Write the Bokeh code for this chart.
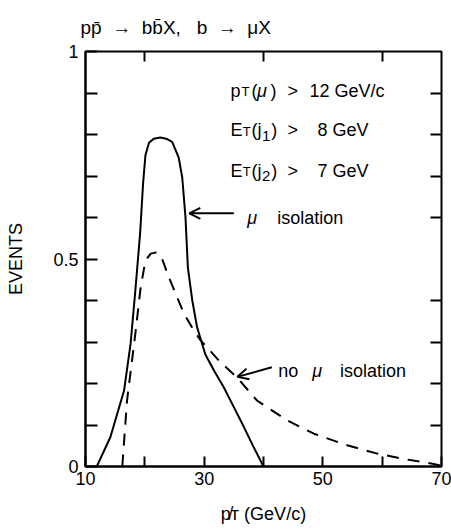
from bokeh.plotting import figure
from bokeh.models import Range1d, LinearAxis, FixedTicker, Label, Arrow, OpenHead
from bokeh.embed import file_html
from bokeh.resources import INLINE

# ---- data ----
iso_x = [11.9, 14.2, 16.5, 17.6, 18.4, 19.2, 19.7, 20.1, 20.7, 21.5, 22.6, 23.6, 24.6,
         25.7, 26.3, 26.85, 27.25, 28.0, 28.8, 30.2, 31.7, 33.3, 35.0, 36.7, 38.3, 40.0]
iso_y = [0.0, 0.071, 0.183, 0.296, 0.424, 0.561, 0.681, 0.750, 0.780, 0.790, 0.793, 0.790, 0.782,
         0.745, 0.697, 0.601, 0.48, 0.40, 0.336, 0.27, 0.23, 0.191, 0.143, 0.095, 0.048, 0.0]

noiso_x = [16.2, 17.0, 18.4, 19.3, 20.1, 21.0, 22.0, 23.0, 24.05, 26.6, 28.25, 29.4, 32.5,
           35.5, 38.9, 44.0, 48.5, 54.1, 59.2, 63.7, 68.7, 70.0]
noiso_y = [0.0, 0.159, 0.32, 0.432, 0.496, 0.513, 0.516, 0.497, 0.456, 0.368, 0.328, 0.304, 0.255,
           0.215, 0.159, 0.111, 0.079, 0.051, 0.031, 0.018, 0.006, 0.002]

x_major = [10, 30, 50, 70]
x_minor = [20, 40, 60]
y_major = [0, 0.5, 1]
y_minor = [0.1, 0.2, 0.3, 0.4, 0.6, 0.7, 0.8, 0.9]

FONT = "Liberation Sans"
FS = "18px"
SUB = "13px"
SUBD = "15px"
NB = "\u00a0"

p = figure(frame_width=356, frame_height=415, x_range=Range1d(10, 70), y_range=Range1d(0, 1),
           output_backend="svg", toolbar_location=None,
           min_border_left=85, min_border_right=10, min_border_top=51, min_border_bottom=65)
p.grid.visible = False
p.outline_line_color = "black"
p.outline_line_width = 2
p.background_fill_color = "white"
p.border_fill_color = "white"

p.title.text = "pp̄" + NB + " →" + NB + " bb̄X," + NB + NB + " b" + NB + " →" + NB + " μX"
p.title.text_font = FONT
p.title.text_font_size = "19px"
p.title.text_font_style = "normal"
p.title.text_color = "black"
p.title.align = "left"
p.title.offset = -5
p.title.standoff = 27

def style_axis(ax, tick_len):
    ax.major_tick_in = tick_len
    ax.major_tick_out = 0
    ax.minor_tick_in = tick_len
    ax.minor_tick_out = 0
    ax.major_tick_line_width = 2
    ax.minor_tick_line_width = 2
    ax.major_tick_line_color = "black"
    ax.minor_tick_line_color = "black"
    ax.axis_line_width = 2
    ax.axis_line_color = "black"
    ax.major_label_text_font = FONT
    ax.major_label_text_font_size = FS
    ax.major_label_text_color = "black"

xa = p.xaxis[0]
xa.ticker = FixedTicker(ticks=x_major, minor_ticks=x_minor)
style_axis(xa, 10)
xa.major_label_standoff = 5
xa.axis_label = "p̸ᴛ (GeV/c)"
xa.axis_label_text_font = FONT
xa.axis_label_text_font_size = FS
xa.axis_label_text_font_style = "normal"
xa.axis_label_text_color = "black"
xa.axis_label_standoff = 16

ya = p.yaxis[0]
ya.ticker = FixedTicker(ticks=y_major, minor_ticks=y_minor)
style_axis(ya, 12)
ya.major_label_standoff = 7
ya.axis_label = "EVENTS"
ya.axis_label_text_font = FONT
ya.axis_label_text_font_size = FS
ya.axis_label_text_font_style = "normal"
ya.axis_label_text_color = "black"
ya.axis_label_standoff = 24

top = LinearAxis(ticker=FixedTicker(ticks=[], minor_ticks=x_minor), fixed_location=1.0)
style_axis(top, 10)
top.axis_line_color = None
p.add_layout(top, "above")

right = LinearAxis(ticker=FixedTicker(ticks=[], minor_ticks=y_minor), fixed_location=70)
style_axis(right, 11)
right.axis_line_color = None
p.add_layout(right, "right")

# ---- curves ----
p.line(iso_x, iso_y, line_color="black", line_width=2)
p.line(noiso_x, noiso_y, line_color="black", line_width=2, line_dash="12 9")

# ---- arrows ----
p.add_layout(Arrow(end=OpenHead(size=11, line_width=2, line_color="black"),
                   x_start=35.0, y_start=0.610, x_end=27.5, y_end=0.610,
                   line_width=2, line_color="black"))
p.add_layout(Arrow(end=OpenHead(size=11, line_width=2, line_color="black"),
                   x_start=41.4, y_start=0.239, x_end=35.6, y_end=0.216,
                   line_width=2, line_color="black"))

def lab(x, y, text, size=FS, style="normal"):
    p.add_layout(Label(x=x, y=y, text=text,
                       text_font=FONT, text_font_size=size, text_font_style=style,
                       text_color="black", text_align="left", text_baseline="alphabetic"))

# curve labels
lab(37.25, 0.598, "μ", style="italic")
lab(42.3, 0.598, "isolation")
lab(42.5, 0.230, "no")
lab(48.2, 0.230, "μ", style="italic")
lab(52.9, 0.230, "isolation")

# cut conditions
y1, y2, y3 = 0.906, 0.810, 0.713
lab(34.44, y1, "p")
lab(36.3, y1 - 0.003, "T", size=SUB)
lab(37.98, y1, "(")
lab(38.9, y1, "μ", style="italic")
lab(41.2, y1, ")")
lab(44.05, y1, ">")
lab(47.75, y1, "12 GeV/c")

for yy, sub, val in [(y2, "1", "8 GeV"), (y3, "2", "7 GeV")]:
    lab(34.44, yy, "E")
    lab(36.5, yy - 0.003, "T", size=SUB)
    lab(37.98, yy, "(j")
    lab(39.75, yy - 0.013, sub, size=SUBD)
    lab(41.3, yy, ")")
    lab(44.05, yy, ">")
    lab(49.1, yy, val)

open("out.html", "w").write(file_html(p, INLINE))
